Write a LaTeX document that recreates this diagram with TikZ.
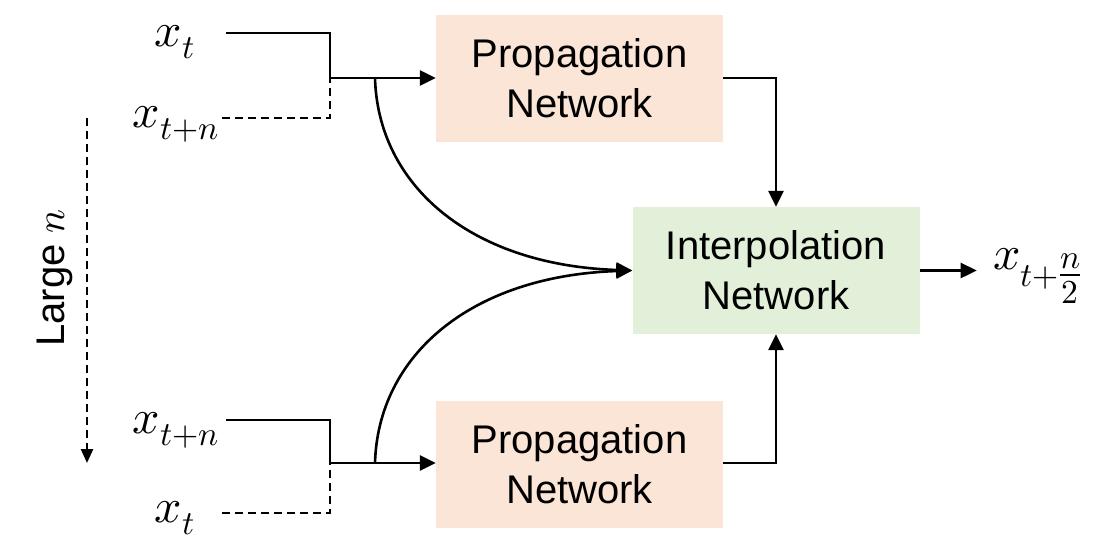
\documentclass[tikz,border=0pt]{standalone}
\usepackage{fontspec}
\usepackage{unicode-math}
\setmainfont{Liberation Sans}
\setmathfont{Latin Modern Math}
\usetikzlibrary{arrows.meta}
\definecolor{peach}{HTML}{FBE5D6}
\definecolor{mint}{HTML}{E2F0D9}
\tikzset{
  box/.style={minimum width=287pt, minimum height=127pt, inner sep=0pt, align=center,
    font=\fontsize{40}{50}\selectfont},
  lbl/.style={inner sep=0pt, font=\fontsize{48}{54}\selectfont},
  conn/.style={line width=2.6pt},
  arr/.style={conn, -{Triangle[length=16pt,width=15pt]}},
  dsh/.style={conn, dash pattern=on 8pt off 5pt},
}
\begin{document}
\begin{tikzpicture}[x=1pt,y=-1pt]
\useasboundingbox (0,0) rectangle (1115,555);
\fill[white] (0,0) rectangle (1115,555);
% boxes
\node[box, fill=peach] (p1) at (579.5,78.5) {Propagation\\Network};
\node[box, fill=peach] (p2) at (579.5,464) {Propagation\\Network};
\node[box, fill=mint] (ip) at (776,270.5) {Interpolation\\Network};
% labels
\node[lbl] (a1) at (175,42) {$x_t$};
\node[lbl] (b1) at (176,124) {$x_{t+n}$};
\node[lbl] (b2) at (176,430) {$x_{t+n}$};
\node[lbl] (a2) at (175,518) {$x_t$};
\node[lbl, anchor=west] (out) at (993,276) {$x_{t+\genfrac{}{}{}{1}{n}{2}}$};
\node[rotate=90, font=\fontsize{40}{50}\selectfont, inner sep=0pt] (ln) at (55,278) {Large $n$};
% coordinates
\coordinate (a1e) at (226,33);
\coordinate (j1) at (330,78);
\coordinate (b1e) at (222,118);
\coordinate (b2e) at (226,420);
\coordinate (j2) at (330,463);
\coordinate (a2e) at (222,513);
\coordinate (c1) at (375,78);
\coordinate (c2) at (375,463);
\coordinate (lt) at (87,118);
\coordinate (lb) at (87,463);
% top inputs
\draw[conn] (a1e) -| (j1);
\draw[dsh] (b1e) -| (j1);
\draw[arr] (j1) -- (p1.west |- j1);
% bottom inputs
\draw[conn] (b2e) -| (j2);
\draw[dsh] (a2e) -| (j2);
\draw[arr] (j2) -- (p2.west |- j2);
% curves
\draw[arr] (c1) .. controls (378,185) and (470,265) .. (ip.west);
\draw[arr] (c2) .. controls (378,356) and (470,276) .. (ip.west);
% propagation to interpolation
\draw[arr] (p1.east |- j1) -| (ip.north);
\draw[arr] (p2.east |- j2) -| (ip.south);
% output
\draw[arr] (ip.east) -- ++(57,0) coordinate (oe);
% large n
\draw[dsh, -{Triangle[length=14pt,width=12pt]}] (lt) -- (lb);
\end{tikzpicture}
\end{document}
